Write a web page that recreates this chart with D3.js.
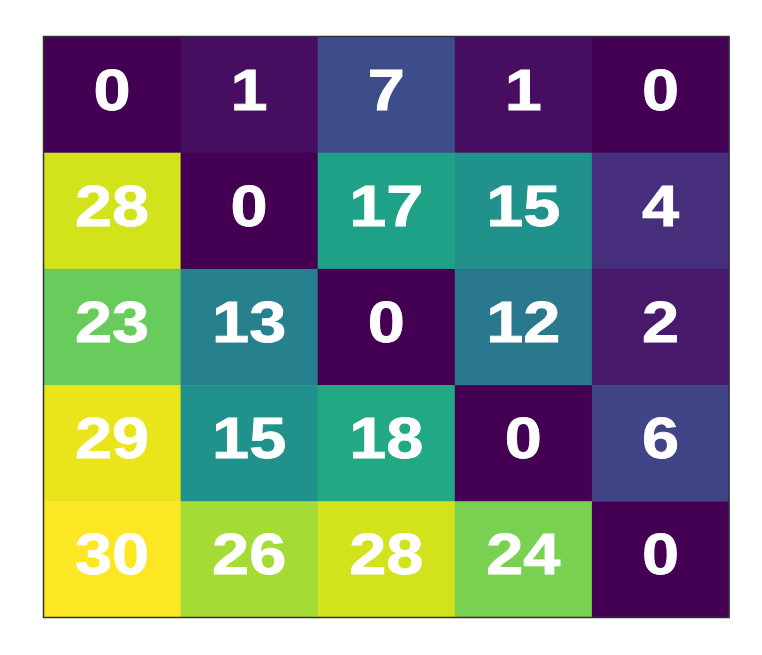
<!DOCTYPE html>
<html>
<head>
<meta charset="utf-8">
<script src="https://cdn.jsdelivr.net/npm/d3@7"></script>
<style>
  body { margin: 0; background: #fff; }
</style>
</head>
<body>
<div id="chart"></div>
<script>
// heatmap values, row by row
let rows = ["r0", "r1", "r2", "r3", "r4"];
let cols = ["c0", "c1", "c2", "c3", "c4"];
let values = [
  [0, 1, 7, 1, 0],
  [28, 0, 17, 15, 4],
  [23, 13, 0, 12, 2],
  [29, 15, 18, 0, 6],
  [30, 26, 28, 24, 0]
];

let svgWidth = 762;
let svgHeight = 655;
let margin = { top: 36.5, right: 33, bottom: 37.5, left: 43.5 };
let width = svgWidth - margin.left - margin.right;
let height = svgHeight - margin.top - margin.bottom;

let svg = d3.select("#chart")
  .append("svg")
  .attr("width", svgWidth)
  .attr("height", svgHeight);

let g = svg.append("g")
  .attr("transform", `translate(${margin.left}, ${margin.top})`);

let x = d3.scaleBand().domain(cols).range([0, width]);
let y = d3.scaleBand().domain(rows).range([0, height]);
let color = d3.scaleSequential(d3.interpolateViridis).domain([0, 30]);

let cells = [];
values.forEach((row, i) => row.forEach((v, j) => cells.push({ r: rows[i], c: cols[j], v: v })));

g.selectAll("rect.cell")
  .data(cells)
  .enter()
  .append("rect")
  .attr("class", "cell")
  .attr("x", d => x(d.c))
  .attr("y", d => y(d.r))
  .attr("width", x.bandwidth() + 0.5)
  .attr("height", y.bandwidth() + 0.5)
  .attr("fill", d => color(d.v));

// labels: heavy, slightly stretched numbers
g.selectAll("text.lbl")
  .data(cells)
  .enter()
  .append("text")
  .attr("class", "lbl")
  .attr("transform", d => `translate(${x(d.c) + x.bandwidth() / 2}, ${y(d.r) + y.bandwidth() / 2}) scale(1.17, 1)`)
  .attr("dy", 15)
  .attr("text-anchor", "middle")
  .attr("font-family", "'Liberation Sans', Arial, sans-serif")
  .attr("font-weight", "bold")
  .attr("font-size", "57px")
  .attr("fill", "#fff")
  .attr("stroke", "#fff")
  .attr("stroke-width", 0.8)
  .text(d => d.v);

g.append("rect")
  .attr("width", width)
  .attr("height", height)
  .attr("fill", "none")
  .attr("stroke", "#333")
  .attr("stroke-width", 1.5);
</script>
</body>
</html>
